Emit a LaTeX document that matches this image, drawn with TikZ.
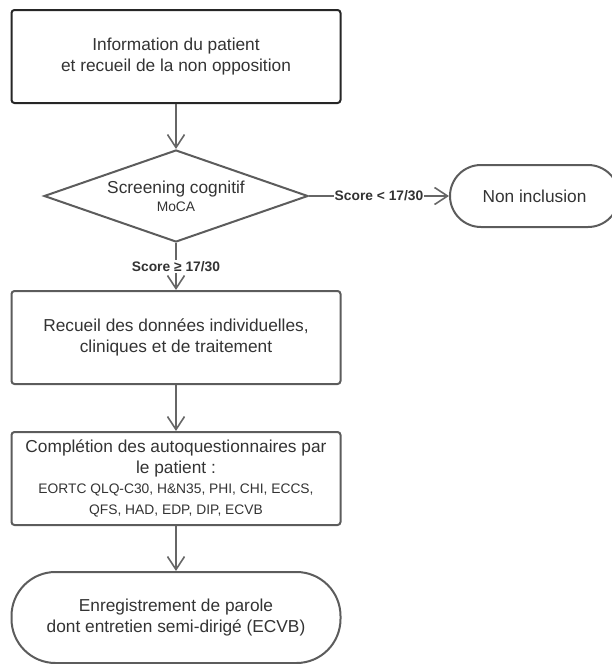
\documentclass[tikz,border=0pt]{standalone}
\usepackage{fontspec}
\setmainfont{Liberation Sans}
\usetikzlibrary{positioning,shapes.geometric,arrows.meta}
\definecolor{txt}{HTML}{333333}
\definecolor{linegray}{HTML}{666666}
\definecolor{boxgray}{HTML}{5C5C5C}
\newcommand{\bigtxt}{\fontsize{17.3}{21}\selectfont}
\newcommand{\smalltxt}{\fontsize{13.8}{17}\selectfont}

\begin{document}
\begin{tikzpicture}[x=1pt,y=1pt]
                        \tikzstyle{every node}=[text=txt,font=\bigtxt,align=center,inner sep=0]
                        \tikzstyle{box}=[draw=boxgray,line width=2,rectangle,rounded corners=3,minimum width=329,minimum height=93]
                        \tikzstyle{startbox}=[box,draw=black!85]
                        \tikzstyle{decide}=[draw=boxgray,line width=2,diamond,aspect=2.87,minimum width=264,minimum height=92]
                        \tikzstyle{term}=[draw=boxgray,line width=2,rectangle,rounded corners=31,minimum width=169,minimum height=62]
                        \tikzstyle{endterm}=[term,rounded corners=44,minimum width=329,minimum height=91]
                        \tikzstyle{cond}=[fill=white,font=\smalltxt\bfseries,inner sep=1]
                        {
                            \useasboundingbox (0,0) rectangle (611,-664);

                            \node[startbox] (info) at (176,-56.5) {Information du patient\\et recueil de la non opposition};
                            \node[decide] (screen) at (176,-196) {Screening cognitif\\[-3pt]{\smalltxt MoCA}};
                            \node[term] (nonincl) at (534.5,-196) {Non inclusion};
                            \node[box] (recueil) at (176,-337.5) {Recueil des donn\'ees individuelles,\\cliniques et de traitement};
                            \node[box] (compl) at (176,-478.5) {Compl\'etion des autoquestionnaires par\\le patient :\\[-1pt]{\smalltxt EORTC QLQ-C30, H\&N35, PHI, CHI, ECCS,}\\{\smalltxt QFS, HAD, EDP, DIP, ECVB}};
                            \node[endterm] (enreg) at (176,-617.5) {Enregistrement de parole\\dont entretien semi-dirig\'e (ECVB)};

                            \path[-{Straight Barb[length=13pt,width=17pt]},draw=linegray,line width=1.6]
                                (info) edge (screen)
                                (screen) edge node[cond] {Score < 17/30} (nonincl)
                                (screen) edge node[cond] {Score ≥ 17/30} (recueil)
                                (recueil) edge (compl)
                                (compl) edge (enreg);
                        }
\end{tikzpicture}
\end{document}
